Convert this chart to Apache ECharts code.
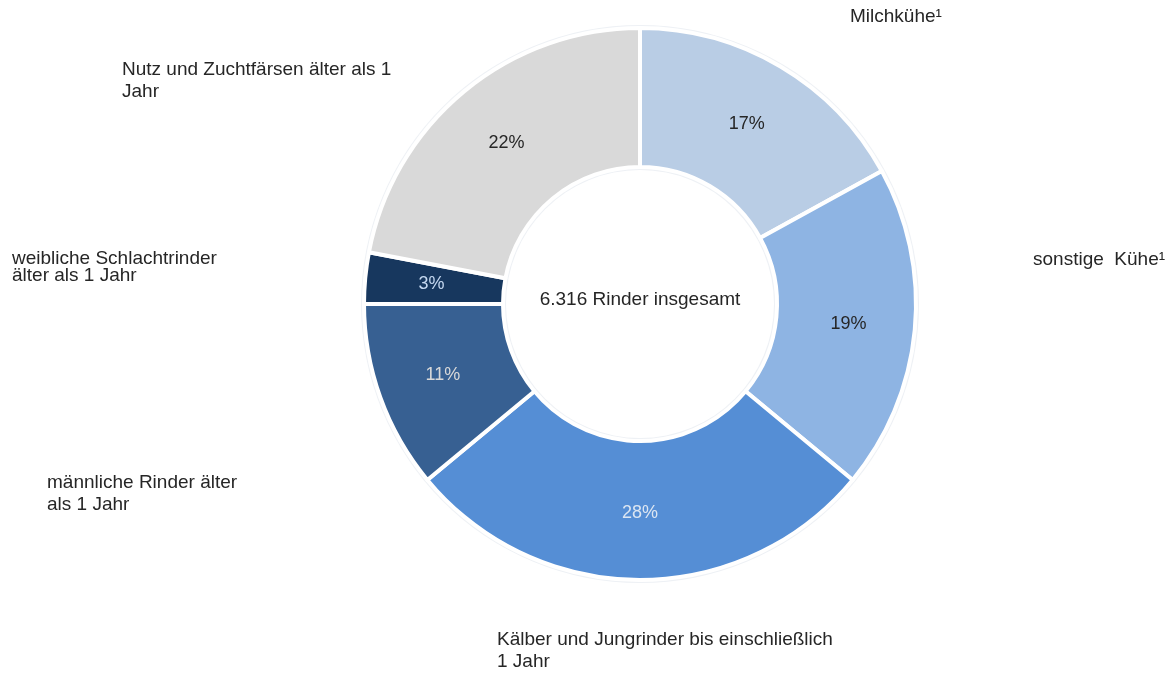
<!DOCTYPE html>
<html>
<head>
<meta charset="utf-8">
<script src="https://cdn.jsdelivr.net/npm/echarts@6/dist/echarts.min.js"></script>
<style>
html,body{margin:0;padding:0;background:#fff;}
#chart{width:1167px;height:674px;}
</style>
</head>
<body>
<div id="chart"></div>
<script>
// Data
const categories = [
  "Milchkühe¹",
  "sonstige Kühe¹",
  "Kälber und Jungrinder bis einschließlich 1 Jahr",
  "männliche Rinder älter als 1 Jahr",
  "weibliche Schlachtrinder älter als 1 Jahr",
  "Nutz und Zuchtfärsen älter als 1 Jahr"
];
const labelTexts = [
  "Milchkühe¹",
  "sonstige  Kühe¹",
  "Kälber und Jungrinder bis einschließlich\n1 Jahr",
  "männliche Rinder älter\nals 1 Jahr",
  "weibliche Schlachtrinder\nälter als 1 Jahr",
  "Nutz und Zuchtfärsen älter als 1\nJahr"
];
const shares = [17, 19, 28, 11, 3, 22];
const totalText = "6.316 Rinder insgesamt";

// Styles
const colors = ["#b9cde5", "#8eb4e3", "#558ed5", "#376092", "#17375e", "#d9d9d9"];
const pctColors = ["#262626", "#262626", "#dce6f2", "#d9d9d9", "#c6d9f1", "#262626"];
const namePos = [
  {x: 850, y: 17, lh: 22},
  {x: 1033, y: 260, lh: 22},
  {x: 497, y: 651, lh: 22},
  {x: 47, y: 494, lh: 22},
  {x: 12, y: 267, lh: 17},
  {x: 122, y: 81, lh: 22}
];

const center = [640, 304];
const FONT = "'Liberation Sans', Arial, sans-serif";

const chart = echarts.init(document.getElementById('chart'), null, {renderer: 'canvas'});
chart.setOption({
  backgroundColor: '#ffffff',
  animation: false,
  series: [
    {
      type: 'pie',
      silent: true,
      center: center,
      radius: [134, 279],
      startAngle: 90,
      clockwise: true,
      label: {show: false},
      labelLine: {show: false},
      itemStyle: {color: '#eef1f5'},
      data: [{value: 1, name: 'bg'}],
      z: 1
    },
    {
      type: 'pie',
      center: center,
      radius: [137, 276],
      startAngle: 90,
      clockwise: true,
      avoidLabelOverlap: false,
      itemStyle: {borderColor: '#ffffff', borderWidth: 4},
      label: {
        show: true,
        position: 'inside',
        fontFamily: FONT,
        fontSize: 18,
        formatter: p => p.value + '%'
      },
      labelLine: {show: false},
      emphasis: {disabled: true},
      data: categories.map((c, i) => ({
        name: c,
        value: shares[i],
        itemStyle: {color: colors[i]},
        label: {color: pctColors[i]}
      })),
      z: 2
    },
    {
      type: 'pie',
      silent: true,
      center: center,
      radius: [137, 276],
      startAngle: 90,
      clockwise: true,
      avoidLabelOverlap: false,
      itemStyle: {color: 'rgba(0,0,0,0)', borderWidth: 0},
      label: {
        show: true,
        position: 'outside',
        fontFamily: FONT,
        fontSize: 19,
        color: '#262626',
        formatter: p => labelTexts[p.dataIndex]
      },
      labelLine: {show: false},
      labelLayout: p => ({
        x: namePos[p.dataIndex].x,
        y: namePos[p.dataIndex].y,
        align: 'left',
        verticalAlign: 'middle'
      }),
      data: categories.map((c, i) => ({
        name: c,
        value: shares[i],
        label: {lineHeight: namePos[i].lh}
      })),
      z: 3
    }
  ],
  graphic: [{
    type: 'text',
    x: center[0],
    y: center[1] - 4,
    style: {
      text: totalText,
      fontFamily: FONT,
      fontSize: 19,
      fill: '#262626',
      textAlign: 'center',
      textVerticalAlign: 'middle'
    },
    z: 10
  }]
});
</script>
</body>
</html>
